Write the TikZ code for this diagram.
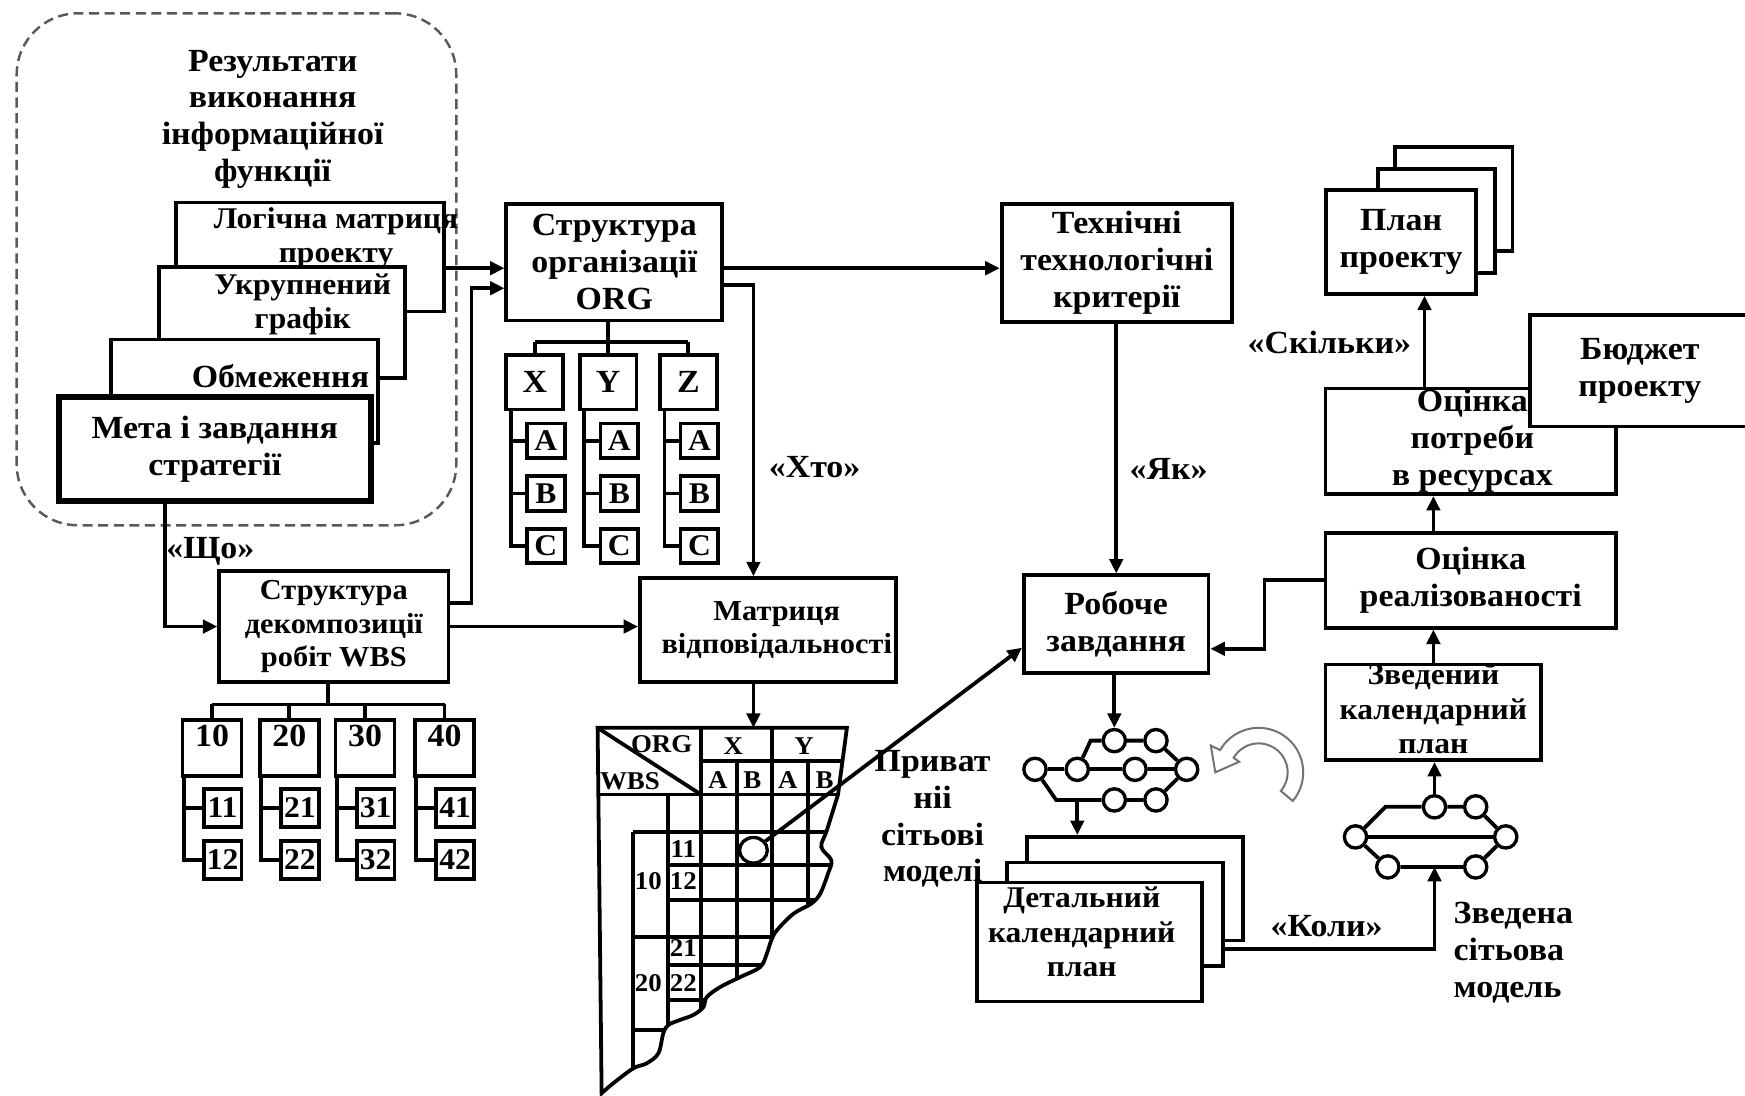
\documentclass[tikz,border=0pt]{standalone}
\usepackage{fontspec}
\setmainfont{Liberation Serif}[FakeStretch=1.05]
\usetikzlibrary{arrows.meta,shapes.geometric}
\newcommand\txtL{\fontsize{29}{33}\selectfont\bfseries}
\newcommand\txtM{\fontsize{27}{31}\selectfont\bfseries}
\newcommand\txtN{\fontsize{26}{30}\selectfont\bfseries}
\newcommand\txtS{\fontsize{23}{26}\selectfont\bfseries}
\tikzset{
    blk/.style={draw, line width=3.4pt, fill=white, align=center, inner sep=0pt, font=\txtL},
    lbl/.style={align=center, inner sep=0pt, font=\txtL},
    lnk/.style={line width=3.4pt, ->},
    tree/.style={line width=3.4pt},
    netnode/.style={draw, circle, line width=3pt, fill=white, minimum size=20pt, inner sep=0pt},
    cellnum/.style={inner sep=0pt, font=\txtS},
    wbsnum/.style={blk, minimum width=53pt, minimum height=50pt, text height=17pt, text depth=19pt},
    wbssub/.style={blk, font=\txtM, minimum width=34pt, minimum height=34pt},
}
\def\tablerim{(537,654) -- (761,654) -- (753,714) -- plot[smooth, tension=0.55] coordinates {(753,714) (743,746) (738,761) (747,773) (744,785) (737,803) (729,812) (713,821) (698,836) (693,845) (689,857) (683,869) (665,878) (647,887) (635,896) (632,905) (623,912) (611,916.5) (600.5,921) (596,928.5) (591.6,946.5) (581,955.5) (569,960) (551,973.4) (540.6,982.4)} -- cycle}

\begin{document}
\begin{tikzpicture}[x=1pt, y=-1pt, >={Triangle[length=13pt,width=12pt]}]
    \useasboundingbox (0,0) rectangle (1568,984);

    % results of the information function
    \node[draw=black!65, line width=2.2pt, dash pattern=on 9pt off 5pt, rounded corners=55pt,
          minimum width=395pt, minimum height=460pt] (info) at (212.5,242) {};
    \node[lbl] (infotitle) at (245,107) {Результати\\виконання\\інформаційної\\функції};
    \node[blk, minimum width=241pt, minimum height=98pt] (logm) at (278.5,231) {};
    \node[lbl, font=\txtM] (logmtext) at (302,214) {Логічна матриця\\проекту};
    \node[blk, minimum width=221pt, minimum height=100pt] (sched) at (253.5,290) {};
    \node[lbl, font=\txtM] (schedtext) at (272,273.5) {Укрупнений\\графік};
    \node[blk, minimum width=240pt, minimum height=93pt] (limits) at (220,351.5) {};
    \node[lbl] (limitstext) at (252,338) {Обмеження};
    \node[blk, line width=5.5pt, minimum width=280pt, minimum height=93pt] (goal) at (193,403.5) {Мета і завдання\\стратегії};

    % organisation structure
    \node[blk, minimum width=194pt, minimum height=105pt] (org) at (552,235.5) {Структура\\організації\\ORG};
    \foreach \col/\cx in {X/480.5,Y/546.5,Z/618.5}{
        \node[blk, minimum width=51pt, minimum height=49pt] (org\col) at (\cx,343.5) {\col};
        \draw[tree] (org\col.north) -- (org\col.north |- 0,307);
        \foreach \sub/\sy in {A/396,B/443.5,C/490.5}{
            \node[blk, font=\txtM, minimum width=34pt, minimum height=31pt] (org\col\sub) at (\cx+10,\sy) {\sub};
            \draw[tree] (org\col\sub.west) -- ++(-14.5,0);
        }
        \draw[tree] ([xshift=-21.5pt]org\col.south) |- (org\col C.west);
    }
    \draw[tree] (orgX.north |- 0,307) -- (orgZ.north |- 0,307);
    \draw[tree] (orgY.north |- org.south) -- (orgY.north |- 0,307);

    % work breakdown structure
    \node[blk, font=\txtN, minimum width=206pt, minimum height=100pt] (wbs) at (300,563) {Структура\\декомпозиції\\робіт WBS};
    \foreach \wn/\cx in {10/190.5,20/260,30/328,40/399.5}{
        \pgfmathtruncatemacro\wa{\wn+1}
        \pgfmathtruncatemacro\wb{\wn+2}
        \node[wbsnum] (w\wn) at (\cx,672) {\wn};
        \node[wbssub] (w\wa) at (\cx+9.5,726) {\wa};
        \node[wbssub] (w\wb) at (\cx+9.5,772.5) {\wb};
        \draw[tree] (w\wn.north) -- (w\wn.north |- 0,633);
        \draw[tree] ([xshift=-25.5pt]w\wn.south) |- (w\wb.west);
        \draw[tree] (w\wa.west) -- ++(-17,0);
    }
    \draw[tree] (w10.north |- 0,633) -- (w40.north |- 0,633);
    \draw[tree] (wbs.south -| 295,0) -- ++(0,20);

    % responsibility matrix
    \node[blk, minimum width=230pt, minimum height=93pt] (matr) at (690,566) {};
    \node[lbl, font=\txtN] (matrtext) at (698,566) {Матриця\\відповідальності};
    \coordinate (tbltop) at (677,654);
    \begin{scope}
        \clip \tablerim;
        \draw[tree] (537,654) -- (630,714);
        \draw[tree] (537,714) -- (800,714);
        \draw[tree] (630,684) -- (800,684);
        \foreach \vx/\vy in {630/654, 694/654, 662/684, 726/684, 600.5/714, 568.5/747.5}
            \draw[tree] (\vx,\vy) -- (\vx,990);
        \foreach \ry/\rx in {747.5/568.5, 777/600.5, 808.7/600.5, 842/568.5, 867/600.5, 898.6/600.5, 925.5/568.5}
            \draw[tree] (\rx,\ry) -- (800,\ry);
    \end{scope}
    \draw[tree] \tablerim;
    \node[cellnum] (tlorg) at (594.5,669) {ORG};
    \node[cellnum] (tlwbs) at (566,702) {WBS};
    \node[cellnum] (tlx) at (659,670) {X};
    \node[cellnum] (tly) at (722.5,670) {Y};
    \foreach \lt/\lx [count=\i] in {A/645,B/676,A/708,B/741}
        \node[cellnum] (tlsub\i) at (\lx,701) {\lt};
    \foreach \lt/\lx/\ly in {11/614/763, 12/614/792, 10/582.5/792, 21/614/852, 22/614/883, 20/582.5/883}
        \node[cellnum] (tl\lt) at (\lx,\ly) {\lt};
    \node[draw, ellipse, line width=3pt, fill=white, minimum width=25pt, minimum height=23pt, inner sep=0pt] (hit) at (677,764) {};

    % criteria and work task
    \node[blk, minimum width=207pt, minimum height=106pt] (tech) at (1003.5,236) {Технічні\\технологічні\\критерії};
    \node[blk, minimum width=166pt, minimum height=88pt] (task) at (1003,561) {Робоче\\завдання};
    \node[lbl] (priv) at (838,736) {Приват\\ніі\\сітьові\\моделі};

    % partial network model
    \foreach \nm/\nx/\ny in {na1/930/691.3, na2/968/691.3, na3/1001.3/665.5, na4/1038.7/665.5,
                             na5/1019.9/691.3, na6/1066.3/691.3, na7/1001.3/718.8, na8/1038.7/718.8}
        \node[netnode] (\nm) at (\nx,\ny) {};
    \draw[tree] (na1) -- (na2) -- (na5) -- (na6);
    \draw[tree] (na2) -- (980,665.5) -- (na3) -- (na4) -- (na6);
    \draw[tree] (na1) -- (949,718.8) -- (na7) -- (na8) -- (na6);
    \draw[black!55, line width=1.8pt, fill=white]
        plot[domain=40:-150, samples=40] ({1131+40*cos(\x)},{694+40*sin(\x)})
        -- (1088,670) -- (1092,694) -- (1113.5,684.5)
        -- plot[domain=-150:40, samples=40] ({1131+26*cos(\x)},{694+26*sin(\x)}) -- cycle;

    % detailed schedule
    \node[blk, minimum width=194pt, minimum height=93pt] (det3) at (1020,798.5) {};
    \node[blk, minimum width=194pt, minimum height=93pt] (det2) at (1002,821.5) {};
    \node[blk, minimum width=202pt, minimum height=107pt] (det1) at (979,846.5) {};
    \node[lbl, font=\txtM] (det1text) at (972,837.5) {Детальний\\календарний\\план};

    % summary network model
    \foreach \nm/\nx/\ny in {nb1/1218/752, nb2/1289/725, nb3/1326/725, nb4/1353/752, nb5/1247/779, nb6/1326/779}
        \node[netnode] (\nm) at (\nx,\ny) {};
    \draw[tree] (nb1) -- (nb4);
    \draw[tree] (nb1) -- (1245,725) -- (nb2) -- (nb3) -- (nb4);
    \draw[tree] (nb1) -- (nb5) -- (nb6) -- (nb4);
    \node[lbl, align=left, anchor=west] (svm) at (1306,856) {Зведена\\сітьова\\модель};

    % right column
    \node[blk, minimum width=194pt, minimum height=86pt] (zv) at (1288,640) {};
    \node[lbl, font=\txtM] (zvtext) at (1288,637) {Зведений\\календарний\\план};
    \node[blk, minimum width=261pt, minimum height=85pt] (feas) at (1321.5,521.5) {Оцінка\\реалізованості};
    \node[blk, minimum width=261pt, minimum height=95pt] (res) at (1321.5,396.5) {};
    \node[lbl] (restext) at (1323,396) {Оцінка\\потреби\\в ресурсах};
    \node[blk, minimum width=197pt, minimum height=100pt] (budg) at (1473.5,333.2) {Бюджет\\проекту};
    \node[blk, minimum width=105.5pt, minimum height=93pt] (plan3) at (1306.25,178.8) {};
    \node[blk, minimum width=105pt, minimum height=93pt] (plan2) at (1291,198.6) {};
    \node[blk, minimum width=135pt, minimum height=93pt] (plan1) at (1259,217.5) {План\\проекту};

    % question labels
    \node[lbl] (qwhat) at (189,495) {«Що»};
    \node[lbl] (qwho) at (732,420) {«Хто»};
    \node[lbl] (qhow) at (1050,421) {«Як»};
    \node[lbl] (qwhen) at (1192,832) {«Коли»};
    \node[lbl] (qmuch) at (1194.5,308) {«Скільки»};

    % connectors
    \draw[lnk] (logm.east |- 0,241) -- (org.west |- 0,241);
    \draw[lnk] (wbs.east |- 0,542) -- ++(19,0) |- (org.west |- 0,259);
    \draw[lnk] (goal.south -| 148,0) |- (wbs.west);
    \draw[lnk] (wbs.east) -- (wbs.east -| matr.west);
    \draw[lnk] (org.east |- 0,241) -- (tech.west |- 0,241);
    \draw[lnk] (org.east |- 0,256) -| (matr.north -| tbltop);
    \draw[lnk] (matr.south -| tbltop) -- (tbltop);
    \draw[lnk] (tech.south -| task.north) -- (task.north);
    \draw[lnk] (hit) -- (task.west |- 0,582);
    \draw[lnk] (task.south -| na3) -- (na3.north);
    \draw[lnk] (na2 |- na7) -- (na2 |- det3.north);
    \draw[lnk] (det2.east |- 0,853) -| (nb2 |- nb5);
    \draw[lnk] (nb2.north) -- (nb2 |- zv.south);
    \draw[lnk] (zv.north) -- (zv.north |- feas.south);
    \draw[lnk] (feas.west) -- ++(-53,0) |- (task.east |- 0,583);
    \draw[lnk] (zv.north |- feas.north) -- (zv.north |- res.south);
    \draw[lnk] (res.north -| 1280,0) -- (plan1.south -| 1280,0);
\end{tikzpicture}
\end{document}
